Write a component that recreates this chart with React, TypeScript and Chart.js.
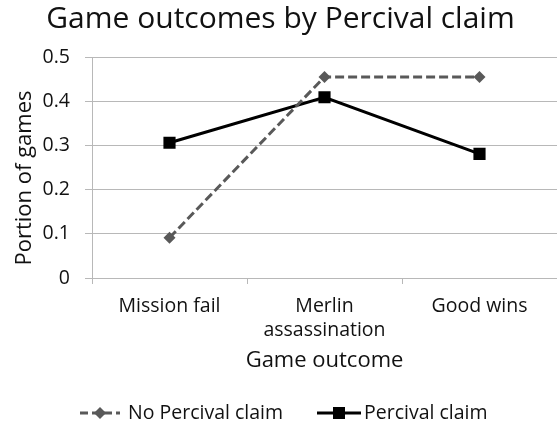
import React, { useEffect, useRef } from "react";
import { Chart, registerables } from "chart.js";

Chart.register(...registerables);

const categories: (string | string[])[] = ["Mission fail", ["Merlin", "assassination"], "Good wins"];
const noPercival = [0.091, 0.455, 0.455];
const percival = [0.306, 0.409, 0.281];
const yTicks = [0, 0.1, 0.2, 0.3, 0.4, 0.5];
const yTitle = "Portion of games";

const FONT = "'Open Sans', 'Noto Sans', sans-serif";
const TEXT = "#111";
const GRID = "#b8b8b8";

const annotatePlugin = {
  id: "customLegend",
  afterDraw(chart: any) {
    const ctx = chart.ctx as CanvasRenderingContext2D;
    ctx.save();
    // y axis title
    ctx.font = `22px ${FONT}`;
    ctx.fillStyle = TEXT;
    ctx.textAlign = "center";
    ctx.textBaseline = "middle";
    ctx.translate(25, 178);
    ctx.rotate(-Math.PI / 2);
    ctx.fillText(yTitle, 0, 0);
    ctx.restore();

    ctx.save();
    const y = 413;
    ctx.font = `19.5px ${FONT}`;
    ctx.textBaseline = "middle";
    // No Percival claim
    ctx.strokeStyle = "#595959";
    ctx.lineWidth = 3;
    ctx.setLineDash([8, 4]);
    ctx.beginPath();
    ctx.moveTo(80, y);
    ctx.lineTo(120, y);
    ctx.stroke();
    ctx.setLineDash([]);
    ctx.fillStyle = "#595959";
    ctx.beginPath();
    ctx.moveTo(100, y - 6);
    ctx.lineTo(106, y);
    ctx.lineTo(100, y + 6);
    ctx.lineTo(94, y);
    ctx.closePath();
    ctx.fill();
    ctx.fillStyle = TEXT;
    ctx.fillText(chart.data.datasets[0].label, 128, y);
    // Percival claim
    ctx.strokeStyle = "#000";
    ctx.fillStyle = "#000";
    ctx.beginPath();
    ctx.moveTo(317, y);
    ctx.lineTo(361, y);
    ctx.stroke();
    ctx.fillRect(333, y - 6, 12, 12);
    ctx.fillStyle = TEXT;
    ctx.fillText(chart.data.datasets[1].label, 364, y);
    ctx.restore();
  },
};

export default function App() {
  const ref = useRef<HTMLCanvasElement>(null);
  useEffect(() => {
    document.body.style.margin = "0";
    const chart = new Chart(ref.current!, {
      type: "line",
      data: {
        labels: categories,
        datasets: [
          {
            label: "No Percival claim",
            data: noPercival,
            borderColor: "#595959",
            backgroundColor: "#595959",
            borderWidth: 3,
            borderDash: [9, 4],
            pointStyle: "rectRot",
            pointRadius: 6,
            pointBorderWidth: 0,
            tension: 0,
          },
          {
            label: "Percival claim",
            data: percival,
            borderColor: "#000",
            backgroundColor: "#000",
            borderWidth: 3,
            pointStyle: "rect",
            pointRadius: 8.6,
            pointBorderWidth: 0,
            tension: 0,
          },
        ],
      },
      options: {
        animation: false,
        responsive: false,
        layout: { autoPadding: false, padding: { left: 4, right: 0, top: 0, bottom: 55.8 } },
        plugins: {
          legend: { display: false },
          tooltip: { enabled: false },
          title: {
            display: true,
            text: "Game outcomes by Percival claim",
            color: TEXT,
            font: { family: FONT, size: 30, weight: "normal" },
            padding: { top: 1, bottom: 20 },
          },
        },
        scales: {
          x: {
            offset: true,
            afterFit: (scale: any) => {
              scale.height = 96.2;
            },
            grid: {
              offset: true,
              drawOnChartArea: false,
              drawTicks: true,
              tickLength: 6,
              color: GRID,
            },
            border: { color: GRID, width: 1 },
            ticks: {
              color: TEXT,
              font: { family: FONT, size: 19.5 },
              maxRotation: 0,
              padding: 11,
            },
            title: {
              display: true,
              text: "Game outcome",
              color: TEXT,
              font: { family: FONT, size: 22 },
              padding: { top: 0, bottom: 0 },
            },
          },
          y: {
            min: 0,
            max: 0.5,
            afterFit: (scale: any) => {
              scale.width = 88;
            },
            afterBuildTicks: (axis: any) => {
              axis.ticks = yTicks.map((v) => ({ value: v }));
            },
            grid: { color: GRID, tickLength: 7 },
            border: { color: GRID, width: 1 },
            ticks: {
              color: TEXT,
              font: { family: FONT, size: 19.5 },
              padding: 15,
            },
            title: { display: false },
          },
        },
      },
      plugins: [annotatePlugin],
    });
    return () => chart.destroy();
  }, []);
  return <canvas ref={ref} width={557} height={430} style={{ display: "block" }} />;
}
